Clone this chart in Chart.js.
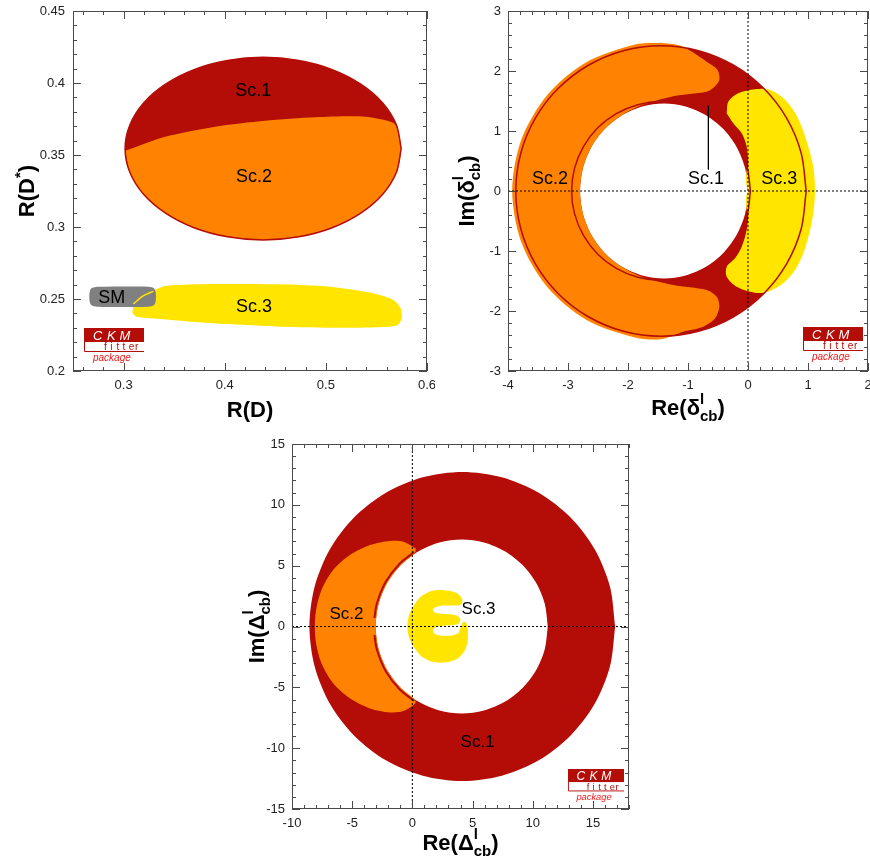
<!DOCTYPE html>
<html>
<head>
<meta charset="utf-8">
<title>CKMfitter scenarios</title>
<script src="https://cdn.jsdelivr.net/npm/chart.js@4.4.1/dist/chart.umd.min.js"></script>
<style>
  html, body { margin: 0; padding: 0; background: #fff; }
  #wrap { position: relative; width: 870px; height: 865px; overflow: hidden; }
  .panel { position: absolute; }
</style>
</head>
<body>
<div id="wrap">
  <div class="panel" style="left:0;top:0;width:435px;height:430px"><canvas id="chart-rd"></canvas></div>
  <div class="panel" style="left:435px;top:0;width:435px;height:430px"><canvas id="chart-delta"></canvas></div>
  <div class="panel" style="left:220px;top:430px;width:430px;height:435px"><canvas id="chart-Delta"></canvas></div>
</div>
<script>
// ---- Panel 1: R(D) vs R(D*) ----
const rdXTicks = [0.3, 0.4, 0.5, 0.6];
const rdYTicks = [0.2, 0.25, 0.3, 0.35, 0.4, 0.45];
const rdSc1Ellipse = [
  [0.5745,0.3544],[0.5698,0.3708],[0.5562,0.3861],[0.5345,0.3992],[0.5063,0.4093],[0.4733,0.4156],
  [0.438,0.4178],[0.4027,0.4156],[0.3697,0.4093],[0.3415,0.3992],[0.3198,0.3861],[0.3062,0.3708],
  [0.3015,0.3544],[0.3062,0.3380],[0.3198,0.3227],[0.3415,0.3096],[0.3697,0.2995],[0.4027,0.2932],
  [0.438,0.2910],[0.4733,0.2932],[0.5063,0.2995],[0.5345,0.3096],[0.5562,0.3227],[0.5698,0.3380],
  [0.5745,0.3544]
];
const rdSc2Region = [
  [0.3018,0.3530],[0.341,0.3627],[0.3904,0.3697],[0.4398,0.3738],[0.4893,0.3762],[0.5387,0.3766],
  [0.5667,0.3724],[0.5716,0.3662],[0.5745,0.3544],[0.5698,0.3380],[0.5562,0.3227],[0.5345,0.3096],
  [0.5063,0.2995],[0.4733,0.2932],[0.438,0.2910],[0.4027,0.2932],[0.3697,0.2995],[0.3415,0.3096],
  [0.3198,0.3227],[0.3062,0.3380],[0.3018,0.3530]
];
const rdSc3Region = [
  [0.3096,0.2447],[0.3162,0.2493],[0.3311,0.2563],[0.3426,0.2592],[0.3887,0.2604],[0.4547,0.2602],
  [0.5041,0.2585],[0.5469,0.2540],[0.5667,0.2493],[0.5740,0.2435],[0.5750,0.2366],[0.5700,0.2315],
  [0.5206,0.2301],[0.4547,0.2308],[0.3887,0.2331],[0.3393,0.2359],[0.3130,0.2377],[0.3090,0.2401],
  [0.3096,0.2447]
];
const rdSmRegion = [
  [0.274,0.2585],[0.3245,0.2585],[0.3305,0.2572],[0.3321,0.2516],[0.3305,0.2460],[0.3245,0.2447],
  [0.274,0.2447],[0.2677,0.2460],[0.2661,0.2516],[0.2677,0.2572],[0.274,0.2585]
];
const rdSc3InSm = [[0.3096,0.2465],[0.3190,0.2520],[0.3294,0.2553]];
const rdLabels = [['Sc.1',0.4283,0.3947],['Sc.2',0.429,0.3349],['Sc.3',0.429,0.2447],['SM',0.2883,0.2509]];

// ---- Panel 2: Re/Im of delta^l_cb ----
const dlXTicks = [-4, -3, -2, -1, 0, 1, 2];
const dlYTicks = [-3, -2, -1, 0, 1, 2, 3];
const dlSc1Outer = [
  [0.97,0],[0.888,0.626],[0.646,1.21],[0.261,1.711],[-0.24,2.096],[-0.824,2.338],
  [-1.45,2.42],[-2.076,2.338],[-2.66,2.096],[-3.161,1.711],[-3.546,1.21],[-3.788,0.626],
  [-3.87,0],[-3.788,-0.626],[-3.546,-1.21],[-3.161,-1.711],[-2.66,-2.096],[-2.076,-2.338],
  [-1.45,-2.42],[-0.824,-2.338],[-0.24,-2.096],[0.261,-1.711],[0.646,-1.21],[0.888,-0.626],
  [0.97,0]
];
const dlSc1Inner = [
  [0.04,0],[-0.011,0.386],[-0.16,0.745],[-0.396,1.054],[-0.705,1.29],[-1.064,1.439],
  [-1.45,1.49],[-1.836,1.439],[-2.195,1.29],[-2.504,1.054],[-2.74,0.745],[-2.889,0.386],
  [-2.94,0],[-2.889,-0.386],[-2.74,-0.745],[-2.504,-1.054],[-2.195,-1.29],[-1.836,-1.439],
  [-1.45,-1.49],[-1.064,-1.439],[-0.705,-1.29],[-0.396,-1.054],[-0.16,-0.745],[-0.011,-0.386],
  [0.04,0]
];
const dlHole = [
  [0.0,0],[-0.048,0.378],[-0.188,0.73],[-0.41,1.032],[-0.7,1.264],[-1.038,1.41],
  [-1.4,1.46],[-1.762,1.41],[-2.1,1.264],[-2.39,1.032],[-2.612,0.73],[-2.752,0.378],
  [-2.8,0],[-2.752,-0.378],[-2.612,-0.73],[-2.39,-1.032],[-2.1,-1.264],[-1.762,-1.41],
  [-1.4,-1.46],[-1.038,-1.41],[-0.7,-1.264],[-0.41,-1.032],[-0.188,-0.73],[-0.048,-0.378],
  [0.0,0]
];
const dlSc2Region = [
  [-1.45,2.47],[-1.15,2.43],[-0.967,2.34],[-0.69,2.155],[-0.51,2.02],[-0.478,1.85],[-0.567,1.73],
  [-0.69,1.655],[-1.245,1.58],[-1.8,1.42],[-2.1,1.264],[-2.39,1.032],[-2.612,0.73],[-2.752,0.378],
  [-2.8,0],[-2.752,-0.378],[-2.612,-0.73],[-2.39,-1.032],[-2.1,-1.264],[-1.8,-1.42],
  [-1.245,-1.567],[-0.69,-1.65],[-0.522,-1.762],[-0.478,-1.928],[-0.55,-2.122],[-0.745,-2.262],
  [-1.078,-2.345],[-1.45,-2.47],[-1.881,-2.442],[-2.69,-2.148],[-3.35,-1.594],[-3.78,-0.848],
  [-3.93,0],[-3.78,0.848],[-3.35,1.594],[-2.69,2.148],[-1.881,2.442],[-1.45,2.47]
];
const dlSc3Region = [
  [-0.355,1.295],[-0.328,1.488],[-0.162,1.628],[0.117,1.695],[0.338,1.695],[0.562,1.572],
  [0.755,1.35],[0.895,1.072],[1.005,0.738],[1.088,0.405],[1.117,0.017],[1.088,-0.372],
  [1.022,-0.705],[0.922,-1.038],[0.783,-1.317],[0.588,-1.538],[0.338,-1.678],[0.117,-1.695],
  [-0.188,-1.595],[-0.355,-1.428],[-0.355,-1.262],[-0.217,-1.122],[-0.105,-0.928],[-0.022,-0.65],
  [0.005,-0.372],[-0.022,-0.317],[-0.033,-0.095],[0.005,0.017],[-0.033,0.128],[-0.022,0.35],
  [0.005,0.405],[-0.022,0.738],[-0.105,0.962],[-0.245,1.128],[-0.355,1.295]
];
const dlSc1Pointer = [[-0.66,1.42],[-0.66,0.36]];
const dlZeroV = [[0,-3],[0,3]];
const dlZeroH = [[-4,0],[2,0]];
const dlLabels = [['Sc.2',-3.3,0.195],['Sc.1',-0.7,0.195],['Sc.3',0.522,0.195]];

// ---- Panel 3: Re/Im of Delta^l_cb ----
const dcXTicks = [-10, -5, 0, 5, 10, 15];
const dcYTicks = [-15, -10, -5, 0, 5, 10, 15];
const dcSc1Outer = [
  [16.85,0],[16.417,3.287],[15.149,6.35],[13.13,8.98],[10.5,10.999],[7.437,12.267],
  [4.15,12.7],[0.863,12.267],[-2.2,10.999],[-4.83,8.98],[-6.849,6.35],[-8.117,3.287],
  [-8.55,0],[-8.117,-3.287],[-6.849,-6.35],[-4.83,-8.98],[-2.2,-10.999],[0.863,-12.267],
  [4.15,-12.7],[7.437,-12.267],[10.5,-10.999],[13.13,-8.98],[15.149,-6.35],[16.417,-3.287],
  [16.85,0]
];
const dcHole = [
  [11.25,0],[11.006,1.851],[10.292,3.575],[9.156,5.056],[7.675,6.192],[5.951,6.906],
  [4.1,7.15],[2.249,6.906],[0.525,6.192],[-0.956,5.056],[-2.092,3.575],[-2.806,1.851],
  [-3.05,0],[-2.806,-1.851],[-2.092,-3.575],[-0.956,-5.056],[0.525,-6.192],[2.249,-6.906],
  [4.1,-7.15],[5.951,-6.906],[7.675,-6.192],[9.156,-5.056],[10.292,-3.575],[11.006,-1.851],
  [11.25,0]
];
const dcSc2Region = [
  [0.28,6.42],[-0.75,6.97],[-1.86,7.03],[-3.52,6.7],[-5.19,5.88],[-6.58,4.64],[-7.55,3.0],
  [-8.0,1.36],[-8.1,0],[-8.0,-1.38],[-7.55,-3.03],[-6.58,-4.67],[-5.19,-5.9],[-3.52,-6.73],
  [-1.86,-7.06],[-0.75,-6.95],[0.23,-6.32],[0.206,-6.0],[-0.956,-5.056],[-2.092,-3.575],
  [-2.806,-1.851],[-3.05,0],[-2.806,1.851],[-2.092,3.575],[-0.956,5.056],[0.206,6.0],[0.28,6.42]
];
const dcSc1EdgeTop = [[0.15,6.12],[-1.062,5.162],[-2.222,3.65],[-2.951,1.889],[-3.15,0.7]];
const dcSc1EdgeBottom = [[0.15,-6.12],[-1.062,-5.162],[-2.222,-3.65],[-2.951,-1.889],[-3.15,-0.7]];
const dcSc3Region = [
  [3.7,2.75],[4.1,2.35],[4.15,1.95],[3.9,1.75],[3.2,1.72],[2.4,1.7],[1.85,1.55],[1.7,1.4],
  [1.85,1.15],[2.4,1.05],[3.2,1.0],[3.8,0.85],[4.0,0.55],[3.8,0.2],[3.2,0.1],[2.4,0.05],
  [1.85,-0.1],[1.7,-0.35],[1.85,-0.6],[2.4,-0.75],[3.2,-0.75],[3.8,-0.55],[4.0,-0.1],[4.2,0.35],
  [4.45,0.35],[4.6,-0.2],[4.6,-1.2],[4.35,-2.0],[3.8,-2.6],[3.0,-2.92],[2.3,-2.97],[1.5,-2.85],
  [0.7,-2.4],[0.1,-1.65],[-0.3,-0.8],[-0.42,0.0],[-0.3,0.85],[0.1,1.7],[0.7,2.45],[1.5,2.9],
  [2.3,3.0],[3.0,2.95],[3.7,2.75]
];
const dcZeroV = [[0,-15],[0,15]];
const dcZeroH = [[-10,0],[18,0]];
const dcLabels = [['Sc.2',-5.47,1.0],['Sc.3',5.5,1.44],['Sc.1',5.42,-9.51]];

// colours
const DARK_RED = '#b40c07';
const ORANGE = '#ff8300';
const YELLOW = '#ffe500';
const GREY = '#808080';
const FRAME = '#4a4a4a';
const FONT = '"Liberation Sans", Arial, Helvetica, sans-serif';

// ---- helpers ----
function pts(list) {
    return list.map(p => ({ x: p[0], y: p[1] }));
}

// filled closed contour
function region(list, color, tension = 0.3) {
    return { data: pts(list), fill: 'shape', backgroundColor: color, borderColor: color,
             borderWidth: 0, pointRadius: 0, tension: tension };
}

// stroked line / contour
function curve(list, color, width, dash, tension = 0.3) {
    return { data: pts(list), fill: false, borderColor: color, borderWidth: width,
             borderDash: dash || [], pointRadius: 0, tension: tension };
}

// datasets are listed bottom -> top; chart.js draws higher order first
function stack(list) {
    return list.map((d, i) => Object.assign(d, { order: list.length - i }));
}

function minorTicks(min, max, step) {
    const out = [];
    const n0 = Math.ceil(min / step - 1e-9);
    const n1 = Math.floor(max / step + 1e-9);
    for (let n = n0; n <= n1; n++) out.push(n * step);
    return out;
}

function drawRichText(ctx, parts, cx, cy, rotated) {
    const big = 'bold 22px ' + FONT;
    const small = 'bold 15px ' + FONT;
    ctx.save();
    ctx.translate(cx, cy);
    if (rotated) ctx.rotate(-Math.PI / 2);
    ctx.textAlign = 'left';
    ctx.textBaseline = 'alphabetic';
    ctx.fillStyle = '#000';
    let cursor = 0;
    const runs = parts.map(p => {
        ctx.font = p.k ? small : big;
        const w = ctx.measureText(p.t).width;
        const run = { p: p, x: cursor };
        if (!p.stack) cursor += w;
        return run;
    });
    runs.forEach(r => {
        ctx.font = r.p.k ? small : big;
        const dy = r.p.k === 'sup' ? (r.p.t === '*' ? -9 : -11) : r.p.k === 'sub' ? 6 : 0;
        ctx.fillText(r.p.t, r.x - cursor / 2, dy);
    });
    ctx.restore();
}

function drawLogo(ctx, x, y, w) {
    const s = w / 60;
    ctx.save();
    ctx.translate(x, y);
    ctx.scale(s, s);
    ctx.textAlign = 'left';
    ctx.textBaseline = 'alphabetic';
    ctx.fillStyle = DARK_RED;
    ctx.fillRect(0, 0, 60, 14);
    ctx.fillStyle = '#fff';
    ctx.font = 'italic 13px ' + FONT;
    ctx.fillText('C', 9, 12);
    ctx.fillText('K', 23, 12);
    ctx.fillText('M', 35.5, 12);
    ctx.strokeStyle = DARK_RED;
    ctx.lineWidth = 1;
    ctx.beginPath();
    ctx.moveTo(0.5, 14);
    ctx.lineTo(0.5, 23.5);
    ctx.lineTo(60, 23.5);
    ctx.stroke();
    ctx.fillStyle = DARK_RED;
    ctx.font = '10px ' + FONT;
    'fitter'.split('').forEach((c, i) => ctx.fillText(c, 20 + i * 6.2, 22));
    ctx.fillStyle = '#f01818';
    ctx.font = 'italic 10px ' + FONT;
    ctx.fillText('package', 9, 33);
    ctx.restore();
}

// labels, frame with inward ticks, logo and axis titles
function decorPlugin(cfg) {
    return {
        id: 'decor_' + cfg.id,
        afterDatasetsDraw(chart) {
            const { ctx, chartArea: a, scales: { x, y } } = chart;
            ctx.save();
            ctx.fillStyle = '#000';
            ctx.font = cfg.labelSize + 'px ' + FONT;
            ctx.textAlign = 'center';
            ctx.textBaseline = 'middle';
            cfg.labels.forEach(l => ctx.fillText(l[0], x.getPixelForValue(l[1]), y.getPixelForValue(l[2])));

            ctx.strokeStyle = FRAME;
            ctx.lineWidth = 1;
            ctx.strokeRect(a.left + 0.5, a.top + 0.5, a.right - a.left - 1, a.bottom - a.top - 1);
            ctx.beginPath();
            minorTicks(x.min, x.max, cfg.x.minor).forEach(v => {
                const major = Math.abs(v / cfg.x.major - Math.round(v / cfg.x.major)) < 1e-6;
                const len = major ? 8 : 4;
                const px = Math.round(x.getPixelForValue(v)) + 0.5;
                ctx.moveTo(px, a.bottom); ctx.lineTo(px, a.bottom - len);
                ctx.moveTo(px, a.top); ctx.lineTo(px, a.top + len);
            });
            minorTicks(y.min, y.max, cfg.y.minor).forEach(v => {
                const major = Math.abs(v / cfg.y.major - Math.round(v / cfg.y.major)) < 1e-6;
                const len = major ? 8 : 4;
                const py = Math.round(y.getPixelForValue(v)) + 0.5;
                ctx.moveTo(a.left, py); ctx.lineTo(a.left + len, py);
                ctx.moveTo(a.right, py); ctx.lineTo(a.right - len, py);
            });
            ctx.stroke();
            drawLogo(ctx, cfg.logo[0], cfg.logo[1], cfg.logo[2]);
            ctx.restore();
        },
        afterDraw(chart) {
            const ctx = chart.ctx;
            drawRichText(ctx, cfg.x.title, cfg.x.titlePos[0], cfg.x.titlePos[1], false);
            drawRichText(ctx, cfg.y.title, cfg.y.titlePos[0], cfg.y.titlePos[1], true);
        }
    };
}

function axisOptions(ax, dir) {
    return {
        type: 'linear',
        min: ax.min,
        max: ax.max,
        grid: { display: false, drawTicks: false },
        border: { display: false },
        ticks: {
            autoSkip: false, maxRotation: 0, minRotation: 0, padding: ax.pad,
            color: '#222', font: { family: FONT, size: 13 },
            callback: v => String(v)
        },
        afterBuildTicks: s => { s.ticks = ax.ticks.map(v => ({ value: v })); },
        afterFit: s => {
            if (dir === 'x') s.height = ax.size; else s.width = ax.size;
            s.paddingLeft = 0; s.paddingRight = 0; s.paddingTop = 0; s.paddingBottom = 0;
        }
    };
}

function makeChart(cfg) {
    return new Chart(document.getElementById(cfg.id), {
        type: 'line',
        data: { datasets: stack(cfg.datasets) },
        options: {
            responsive: true,
            maintainAspectRatio: false,
            animation: false,
            devicePixelRatio: 1,
            events: [],
            layout: { padding: cfg.padding },
            plugins: { legend: { display: false }, tooltip: { enabled: false } },
            scales: { x: axisOptions(cfg.x, 'x'), y: axisOptions(cfg.y, 'y') }
        },
        plugins: [decorPlugin(cfg)]
    });
}

const dotted = [2, 2];

makeChart({
    id: 'chart-rd',
    padding: { left: 0, top: 11, right: 8, bottom: 0 },
    x: { min: 0.25, max: 0.6, ticks: rdXTicks, minor: 0.02, major: 0.1, size: 59, pad: 7,
         title: [{ t: 'R(D)' }], titlePos: [250, 417] },
    y: { min: 0.2, max: 0.45, ticks: rdYTicks, minor: 0.01, major: 0.05, size: 73, pad: 8,
         title: [{ t: 'R(D' }, { t: '*', k: 'sup' }, { t: ')' }], titlePos: [34, 191] },
    labels: rdLabels, labelSize: 18,
    logo: [84, 328, 60],
    datasets: [
        region(rdSc1Ellipse, DARK_RED),
        region(rdSc2Region, ORANGE, 0.25),
        curve(rdSc1Ellipse, DARK_RED, 1.5),
        region(rdSc3Region, YELLOW, 0.25),
        region(rdSmRegion, GREY, 0.3),
        curve(rdSc3InSm, YELLOW, 1.5)
    ]
});

makeChart({
    id: 'chart-delta',
    padding: { left: 0, top: 11, right: 2, bottom: 0 },
    x: { min: -4, max: 2, ticks: dlXTicks, minor: 0.2, major: 1, size: 59, pad: 7,
         title: [{ t: 'Re(' }, { t: 'δ' }, { t: 'l', k: 'sup', stack: true }, { t: 'cb', k: 'sub' }, { t: ')' }],
         titlePos: [253, 415] },
    y: { min: -3, max: 3, ticks: dlYTicks, minor: 0.2, major: 1, size: 73, pad: 7,
         title: [{ t: 'Im(' }, { t: 'δ' }, { t: 'l', k: 'sup', stack: true }, { t: 'cb', k: 'sub' }, { t: ')' }],
         titlePos: [39, 191] },
    labels: dlLabels, labelSize: 18,
    logo: [368, 327, 60],
    datasets: [
        region(dlSc1Outer, DARK_RED),
        region(dlHole, '#ffffff'),
        region(dlSc2Region, ORANGE, 0.3),
        region(dlSc3Region, YELLOW, 0.3),
        curve(dlSc1Outer, DARK_RED, 1.5),
        curve(dlSc1Inner, DARK_RED, 1.5),
        curve(dlSc1Pointer, '#000', 1, null, 0),
        curve(dlZeroV, '#000', 1, dotted, 0),
        curve(dlZeroH, '#000', 1, dotted, 0)
    ]
});

makeChart({
    id: 'chart-Delta',
    padding: { left: 0, top: 14, right: 21, bottom: 0 },
    x: { min: -10, max: 18, ticks: dcXTicks, minor: 1, major: 5, size: 56, pad: 7,
         title: [{ t: 'Re(' }, { t: 'Δ' }, { t: 'l', k: 'sup', stack: true }, { t: 'cb', k: 'sub' }, { t: ')' }],
         titlePos: [240.5, 420] },
    y: { min: -15, max: 15, ticks: dcYTicks, minor: 1, major: 5, size: 72, pad: 7,
         title: [{ t: 'Im(' }, { t: 'Δ' }, { t: 'l', k: 'sup', stack: true }, { t: 'cb', k: 'sub' }, { t: ')' }],
         titlePos: [44, 196.5] },
    labels: dcLabels, labelSize: 17,
    logo: [348, 339, 56],
    datasets: [
        region(dcSc1Outer, DARK_RED),
        region(dcHole, '#ffffff'),
        region(dcSc2Region, ORANGE, 0.3),
        curve(dcSc1EdgeTop, DARK_RED, 2),
        curve(dcSc1EdgeBottom, DARK_RED, 2),
        region(dcSc3Region, YELLOW, 0.25),
        curve(dcZeroV, '#000', 1, dotted, 0),
        curve(dcZeroH, '#000', 1, dotted, 0)
    ]
});
</script>
</body>
</html>
